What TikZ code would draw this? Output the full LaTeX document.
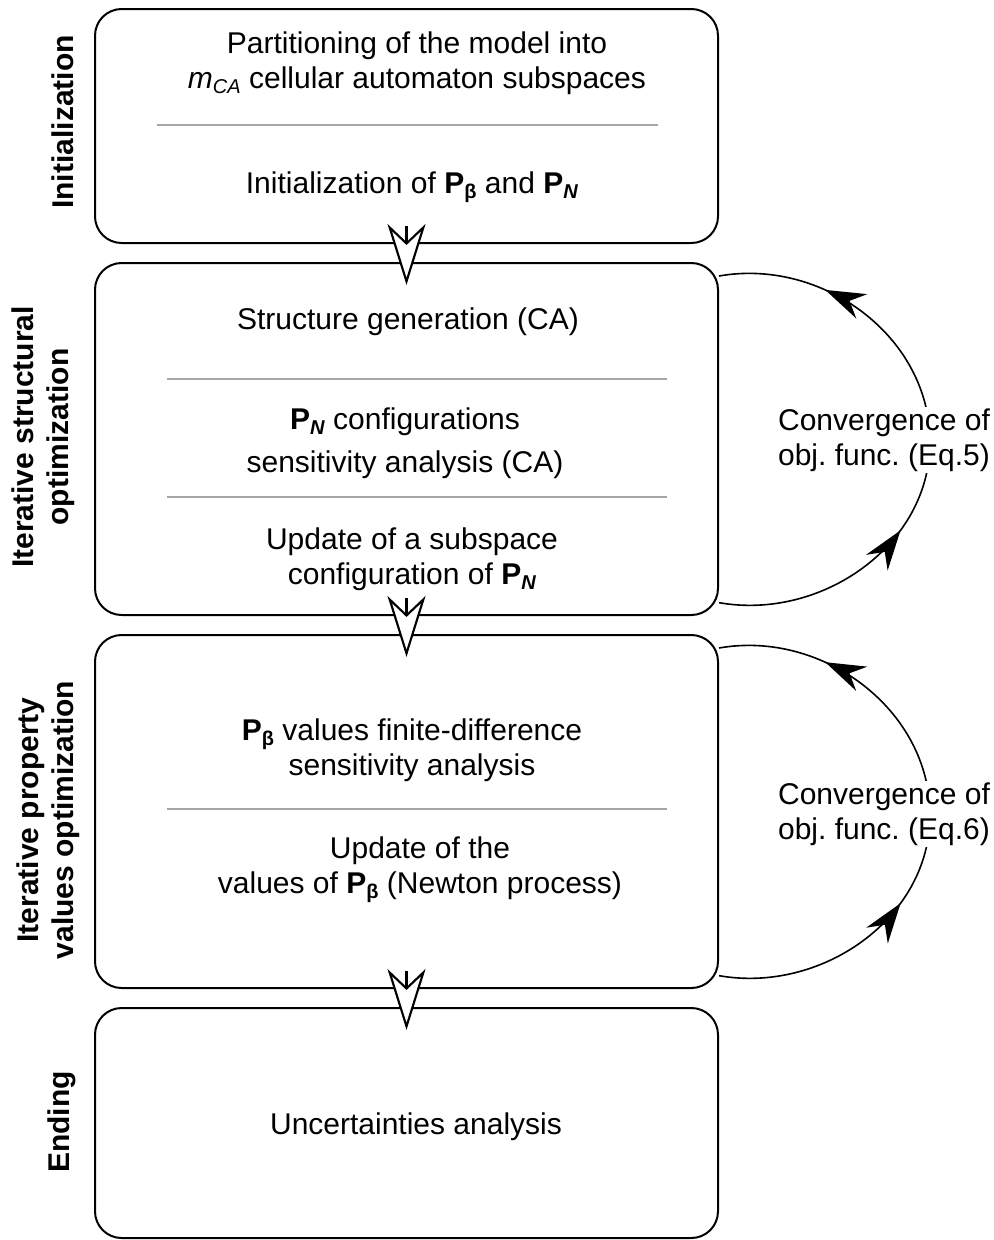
\documentclass[tikz,border=0pt]{standalone}
\usepackage{fontspec}
\setmainfont{Liberation Sans}
\usetikzlibrary{arrows.meta,decorations.markings}
\newcommand{\lowsub}[1]{\raisebox{-0.3ex}{\fontsize{15}{15}\selectfont #1}}
\newcommand{\Pbeta}{\textbf{P}\lowsub{\textbf{β}}}
\newcommand{\PN}{\textbf{P}\lowsub{\textbf{\textit{N}}}}
\newcommand{\mCA}{\textit{m}\lowsub{\textit{CA}}}
\begin{document}
\begin{tikzpicture}[x=0.75pt,y=-0.75pt,
  box/.style={draw,line width=1.5pt,rounded corners=20pt,minimum width=467.25pt,inner sep=0pt},
  body/.style={align=center,font=\fontsize{22.5}{26.25}\selectfont\frenchspacing},
  side/.style={align=center,rotate=90,font=\bfseries\fontsize{22.5}{26.25}\selectfont},
  sepline/.style={draw=black!35,line width=1.1pt},
  flowarrow/.style={line width=1.6pt,-{Stealth[length=45.75pt,width=28.5pt,inset=13.5pt,fill=white]}},
  loopback/.style={line width=1.2pt,postaction={decorate},decoration={markings,
    mark=at position 0.34 with {\arrow{Stealth[length=30pt,width=20pt,inset=10pt]}},
    mark=at position 0.82 with {\arrow{Stealth[length=30pt,width=20pt,inset=10pt]}}}},
  convlabel/.style={align=center,fill=white,inner sep=1pt,font=\fontsize{22.5}{26.25}\selectfont\frenchspacing}]
  \useasboundingbox (0,0) rectangle (994,1240);
  \node[box,minimum height=175.5pt] (init) at (406.5,126) {};
  \node[box,minimum height=264pt] (struct) at (406.5,439) {};
  \node[box,minimum height=264.75pt] (prop) at (406.5,811.5) {};
  \node[box,minimum height=172.5pt] (ending) at (406.5,1123) {};

  \node[side] (initlab) at (63,122) {Initialization};
  \node[side] (structlab) at (43,437) {Iterative structural\\optimization};
  \node[side] (proplab) at (48,820) {Iterative property\\values optimization};
  \node[side] (endlab) at (62,1122) {Ending};

  \draw[sepline] (157,125) -- (658,125);
  \draw[sepline] (167,379) -- (667,379);
  \draw[sepline] (167,497) -- (667,497);
  \draw[sepline] (167,809) -- (667,809);

  \node[body] (part) at (417,63) {Partitioning of the model into\\\mCA{} cellular automaton subspaces};
  \node[body] (initp) at (412,187) {Initialization of \Pbeta{} and \PN};
  \node[body] (gen) at (408,322) {Structure generation (CA)};
  \node[body] (pnconf) at (405,443) {\PN{} configurations\\[6pt]sensitivity analysis (CA)};
  \node[body] (upd) at (412,559) {Update of a subspace\\configuration of \PN};
  \node[body] (pbsens) at (412,750) {\Pbeta{} values finite-difference\\sensitivity analysis};
  \node[body] (updval) at (420,870) {Update of the\\values of \Pbeta{} (Newton process)};
  \node[body] (unc) at (416,1127) {Uncertainties analysis};

  \coordinate (turn1) at (930,442);
  \coordinate (turn2) at (930,815);
  \draw[loopback] ([yshift=10pt]struct.south east) to[out=-10,in=-90] (turn1) to[out=90,in=10] ([yshift=-10.5pt]struct.north east);
  \draw[loopback] ([yshift=10pt]prop.south east) to[out=-10,in=-90] (turn2) to[out=90,in=10] ([yshift=-10.5pt]prop.north east);
  \node[convlabel] (conv1) at (884,440) {Convergence of\\obj. func. (Eq.5)};
  \node[convlabel] (conv2) at (884,814) {Convergence of\\obj. func. (Eq.6)};

  \draw[flowarrow] ([yshift=13.5pt]init.south) -- ([yshift=-17.25pt]struct.north);
  \draw[flowarrow] ([yshift=13.5pt]struct.south) -- ([yshift=-17.25pt]prop.north);
  \draw[flowarrow] ([yshift=13.5pt]prop.south) -- ([yshift=-17.25pt]ending.north);
\end{tikzpicture}
\end{document}
